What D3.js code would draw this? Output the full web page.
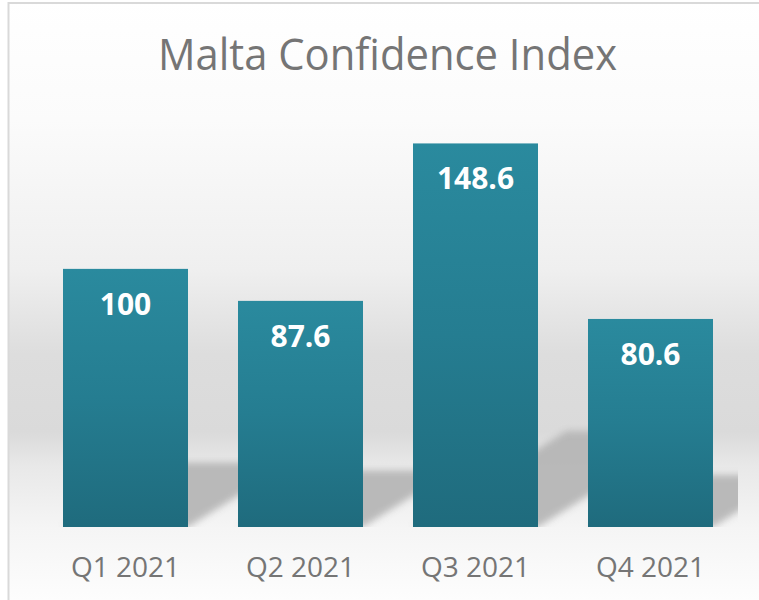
<!DOCTYPE html>
<html>
<head>
<meta charset="utf-8">
<script src="https://cdn.jsdelivr.net/npm/d3@7"></script>
<style>
  html, body { margin: 0; padding: 0; background: #ffffff; }
  svg { display: block; }
</style>
</head>
<body>
<svg id="chart" width="759" height="600"></svg>
<script>
const title = "Malta Confidence Index";
const categories = ["Q1 2021", "Q2 2021", "Q3 2021", "Q4 2021"];
const values = [100, 87.6, 148.6, 80.6];
const valueLabels = ["100", "87.6", "148.6", "80.6"];

const W = 759, H = 600;
const plot = { left: 38, right: 738, top: 114, bottom: 527 };

const svg = d3.select("#chart");
const defs = svg.append("defs");

// chart background gradient
const bg = defs.append("linearGradient").attr("id", "bgGrad")
  .attr("gradientUnits", "userSpaceOnUse").attr("x1", 0).attr("y1", 0).attr("x2", 0).attr("y2", H);
[[0, "#ffffff"], [0.2, "#fbfbfb"], [0.45, "#efefef"], [0.59, "#dddddd"], [0.72, "#dadada"], [0.775, "#e8e8e8"], [0.88, "#f5f5f5"], [1, "#fdfdfd"]]
  .forEach(([o, c]) => bg.append("stop").attr("offset", o).attr("stop-color", c));

// bar gradient
const barGrad = defs.append("linearGradient").attr("id", "barGrad")
  .attr("x1", 0).attr("y1", 0).attr("x2", 0).attr("y2", 1);
[[0, "#2a8a9e"], [0.5, "#257d91"], [1, "#1f6b7d"]]
  .forEach(([o, c]) => barGrad.append("stop").attr("offset", o).attr("stop-color", c));

defs.append("filter").attr("id", "blur").attr("x", "-20%").attr("y", "-50%").attr("width", "140%").attr("height", "200%")
  .append("feGaussianBlur").attr("stdDeviation", 3.5);

defs.append("clipPath").attr("id", "plotClip")
  .append("rect").attr("x", plot.left).attr("y", 0).attr("width", plot.right - plot.left).attr("height", plot.bottom);

// backgrounds
svg.append("rect").attr("x", 0).attr("y", 0).attr("width", W).attr("height", H).attr("fill", "#ffffff");
svg.append("rect").attr("x", 8.5).attr("y", 3).attr("width", 800).attr("height", 700)
  .attr("fill", "url(#bgGrad)").attr("stroke", "#d9d9d9").attr("stroke-width", 2);

// scales
const x = d3.scaleBand().domain(categories).range([plot.left, plot.right])
  .paddingInner(50 / 175).paddingOuter(25 / 175);
const y = d3.scaleLinear().domain([0, 160]).range([plot.bottom, plot.top]);

const data = categories.map((c, i) => ({ c, v: values[i], label: valueLabels[i] }));

// perspective shadows
const shadowG = svg.append("g").attr("clip-path", "url(#plotClip)");
shadowG.selectAll("path").data(data).enter().append("path")
  .attr("d", d => {
    const x0 = x(d.c), x1 = x(d.c) + x.bandwidth();
    const hb = y(0) - y(d.v);
    const sh = hb * 0.25;
    const shift = sh * 1.6;
    const yb = y(0), yt = y(0) - sh;
    return `M${x0},${yb} L${x1},${yb} L${x1 + shift},${yt} L${x0 + shift},${yt} Z`;
  })
  .attr("fill", "#b4b4b4")
  .attr("opacity", 0.9)
  .attr("filter", "url(#blur)");

// bars
svg.append("g").selectAll("rect").data(data).enter().append("rect")
  .attr("x", d => x(d.c))
  .attr("y", d => y(d.v))
  .attr("width", x.bandwidth())
  .attr("height", d => y(0) - y(d.v))
  .attr("fill", "url(#barGrad)");

// value labels
svg.append("g").selectAll("text").data(data).enter().append("text")
  .attr("x", d => x(d.c) + x.bandwidth() / 2)
  .attr("y", d => y(d.v) + 46)
  .attr("text-anchor", "middle")
  .attr("font-family", "'Open Sans', sans-serif")
  .attr("font-weight", "bold")
  .attr("font-size", 30)
  .attr("fill", "#ffffff")
  .text(d => d.label);

// x axis
const xAxis = svg.append("g").attr("transform", `translate(0,${plot.bottom})`)
  .call(d3.axisBottom(x).tickSize(0).tickPadding(0));
xAxis.select(".domain").remove();
xAxis.selectAll("text")
  .attr("dy", null)
  .attr("y", 50)
  .attr("font-family", "'Open Sans', sans-serif")
  .attr("font-size", 28)
  .attr("fill", "#757575");

// title
const t = svg.append("text")
  .attr("x", 387.5).attr("y", 70)
  .attr("text-anchor", "middle")
  .attr("font-family", "'Open Sans', sans-serif")
  .attr("font-size", 44)
  .attr("fill", "#757575")
  .text(title);
const tw = t.node().getComputedTextLength();
if (Math.abs(tw - 459) > 4) t.attr("textLength", 459).attr("lengthAdjust", "spacingAndGlyphs");
</script>
</body>
</html>
